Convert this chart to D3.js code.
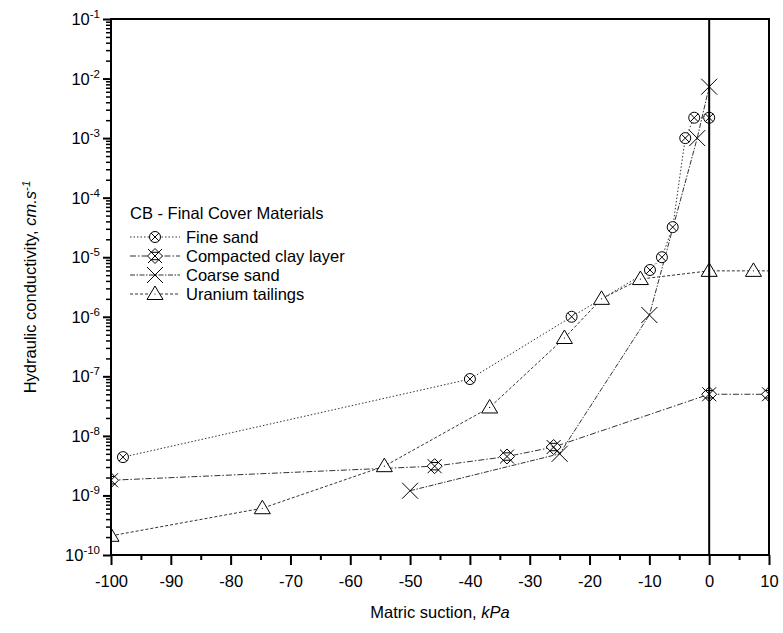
<!DOCTYPE html>
<html>
<head>
<meta charset="utf-8">
<script src="https://cdn.jsdelivr.net/npm/d3@7"></script>
<style>
  body { margin: 0; background: #fff; }
  svg { font-family: "Liberation Sans", Arial, sans-serif; }
</style>
</head>
<body>
<div id="chart"></div>
<script>
var width = 783, height = 633;
var mLeft = 111, mRight = 769, mTop = 19, mBottom = 555;

// data (suction kPa, conductivity cm/s)
var fineX = [-98, -40, -23, -9.9, -7.9, -6.1, -4, -2.5, 0];
var fineK = [4.4e-9, 9e-8, 1e-6, 6.1e-6, 1e-5, 3.2e-5, 1e-3, 2.2e-3, 2.2e-3];
var clayX = [-100, -45.9, -33.8, -26, 0, 10];
var clayK = [1.8e-9, 3.1e-9, 4.5e-9, 6.5e-9, 5e-8, 5e-8];
var coarseX = [-50, -25, -10, -2, 0];
var coarseK = [1.2e-9, 5e-9, 1.07e-6, 1e-3, 7.3e-3];
var tailX = [-100, -74.7, -54.3, -36.7, -24.2, -18, -11.5, 0, 7.4, 12];
var tailK = [2.1e-10, 6.1e-10, 3.1e-9, 3e-8, 4.4e-7, 2e-6, 4.3e-6, 5.9e-6, 5.9e-6, 5.9e-6];
var xTicks = [-100, -90, -80, -70, -60, -50, -40, -30, -20, -10, 0, 10];
var yExps = [-10, -9, -8, -7, -6, -5, -4, -3, -2, -1];

var series = [
  { name: "Fine sand", xs: fineX, ks: fineK, dash: "1.5,2", marker: "circx" },
  { name: "Compacted clay layer", xs: clayX, ks: clayK, dash: "6,2,1.5,2", marker: "dx" },
  { name: "Coarse sand", xs: coarseX, ks: coarseK, dash: "5,1.5,1.5,1.5", marker: "x" },
  { name: "Uranium tailings", xs: tailX, ks: tailK, dash: "3,2", marker: "tri" }
];

var x = d3.scaleLinear().domain([-100, 10]).range([mLeft, mRight]);
var y = d3.scaleLog().domain([1e-10, 1e-1]).range([mBottom, mTop]);

var svg = d3.select("#chart").append("svg")
  .attr("width", width).attr("height", height);

svg.append("defs").append("clipPath").attr("id", "plot")
  .append("rect").attr("x", mLeft).attr("y", mTop)
  .attr("width", mRight - mLeft).attr("height", mBottom - mTop);

function drawMarker(g, type) {
  g.attr("fill", "none").attr("stroke", "#000").attr("stroke-width", 1);
  if (type === "circx") {
    g.append("circle").attr("r", 5.5).attr("fill", "#fff");
    g.append("path").attr("d", "M-4,-4L4,4M-4,4L4,-4");
  } else if (type === "dx") {
    g.append("path").attr("d", "M0,-7.5L7.5,0L0,7.5L-7.5,0Z").attr("fill", "#fff");
    g.append("path").attr("d", "M-7,-7L7,7M-7,7L7,-7M-3.7,-3.7L3.7,-3.7M-3.7,3.7L3.7,3.7");
  } else if (type === "x") {
    g.append("path").attr("d", "M-8,-8L8,8M-8,8L8,-8");
  } else {
    g.append("path").attr("d", "M0,-8L8,5.5L-8,5.5Z").attr("fill", "#fff");
    g.append("circle").attr("r", 0.6).attr("fill", "#000").attr("stroke", "none");
  }
}

var line = d3.line().x(function (d) { return x(d[0]); }).y(function (d) { return y(d[1]); });

var plot = svg.append("g").attr("clip-path", "url(#plot)");

// zero line
svg.append("line").attr("x1", x(0)).attr("x2", x(0)).attr("y1", mTop).attr("y2", mBottom)
  .attr("stroke", "#000").attr("stroke-width", 2);

series.forEach(function (s) {
  var pts = s.xs.map(function (v, i) { return [v, s.ks[i]]; });
  plot.append("path").attr("d", line(pts)).attr("fill", "none")
    .attr("stroke", "#333").attr("stroke-width", 1).attr("stroke-dasharray", s.dash);
});
series.forEach(function (s) {
  s.xs.forEach(function (v, i) {
    var g = plot.append("g").attr("transform", "translate(" + x(v) + "," + y(s.ks[i]) + ")");
    drawMarker(g, s.marker);
  });
});

// frame
svg.append("rect").attr("x", mLeft).attr("y", mTop).attr("width", mRight - mLeft).attr("height", mBottom - mTop)
  .attr("fill", "none").attr("stroke", "#000").attr("stroke-width", 2);

// x axis
var xAxis = svg.append("g").attr("transform", "translate(0," + mBottom + ")")
  .call(d3.axisBottom(x).tickValues(xTicks).tickSize(10).tickPadding(10)
    .tickFormat(function (d) { return String(d); }));
xAxis.select(".domain").remove();
xAxis.selectAll("line").attr("stroke-width", 2);
xAxis.selectAll("text").attr("font-size", 16.5).attr("fill", "#000")
  .attr("font-family", "'Liberation Sans', Arial, sans-serif");
var xMinor = svg.append("g").attr("transform", "translate(0," + mBottom + ")")
  .call(d3.axisBottom(x).tickValues(xTicks.slice(0, -1).map(function (v) { return v + 5; })).tickSize(5).tickFormat(""));
xMinor.select(".domain").remove();
xMinor.selectAll("line").attr("stroke-width", 2);

// y axis
var yMajor = yExps.map(function (e) { return Math.pow(10, e); });
var yMinorVals = [];
yExps.slice(0, -1).forEach(function (e) {
  for (var m = 2; m < 10; m++) yMinorVals.push(m * Math.pow(10, e));
});
var yAxis = svg.append("g").attr("transform", "translate(" + mLeft + ",0)")
  .call(d3.axisLeft(y).tickValues(yMajor).tickSize(8).tickFormat(""));
yAxis.select(".domain").remove();
yAxis.selectAll("line").attr("stroke-width", 2);
var yMin = svg.append("g").attr("transform", "translate(" + mLeft + ",0)")
  .call(d3.axisLeft(y).tickValues(yMinorVals).tickSize(5).tickFormat(""));
yMin.select(".domain").remove();
yMin.selectAll("line").attr("stroke-width", 1.5);

yExps.forEach(function (e) {
  var t = svg.append("text").attr("x", mLeft - 11).attr("y", y(Math.pow(10, e)) + 6)
    .attr("text-anchor", "end").attr("font-size", 16.5);
  t.append("tspan").text("10");
  t.append("tspan").attr("dy", -7).attr("font-size", 11.5).text(String(e));
});

// axis titles
var xt = svg.append("text").attr("x", (mLeft + mRight) / 2).attr("y", 618)
  .attr("text-anchor", "middle").attr("font-size", 16.5);
xt.append("tspan").text("Matric suction, ");
xt.append("tspan").attr("font-style", "italic").text("kPa");

var yt = svg.append("text").attr("transform", "translate(36," + ((mTop + mBottom) / 2) + ") rotate(-90)")
  .attr("text-anchor", "middle").attr("font-size", 16.5);
yt.append("tspan").text("Hydraulic conductivity, ");
yt.append("tspan").attr("font-style", "italic").text("cm.s");
yt.append("tspan").attr("font-style", "italic").attr("dy", -6).attr("font-size", 11.5).text("-1");

// legend
var lg = svg.append("g");
lg.append("text").attr("x", 130).attr("y", 219).attr("font-size", 16.5).text("CB - Final Cover Materials");
series.forEach(function (s, i) {
  var cy = 237 + i * 19;
  lg.append("line").attr("x1", 130).attr("x2", 180).attr("y1", cy).attr("y2", cy)
    .attr("stroke", "#333").attr("stroke-dasharray", s.dash);
  var g = lg.append("g").attr("transform", "translate(155," + cy + ")");
  drawMarker(g, s.marker);
  lg.append("text").attr("x", 186).attr("y", cy + 6).attr("font-size", 16.5).text(s.name);
});
</script>
</body>
</html>
